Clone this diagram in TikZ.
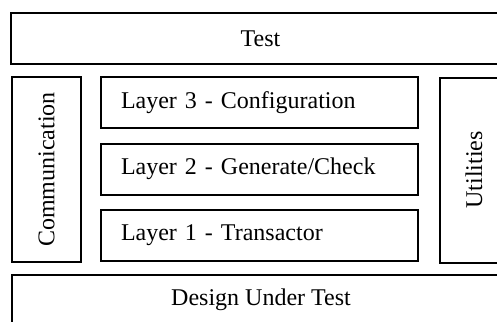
\documentclass[tikz,border=0pt]{standalone}
\usepackage{fontspec}
\setmainfont{Liberation Serif}
\usetikzlibrary{positioning}

\begin{document}
\begin{tikzpicture}[
    x=1pt, y=-1pt,
    every node/.style={font=\fontsize{24}{28}\selectfont, align=center},
    block/.style={draw, line width=2pt, inner sep=0pt},
    layer/.style={block, text width=277pt, align=left, inner xsep=20pt, minimum height=51pt},
    side/.style={block, rotate=90, minimum width=185pt, minimum height=69pt}
]

% Frame
\useasboundingbox (0,0) rectangle (497,321);
\fill[white] (0,0) rectangle (497,321);
\clip (0,0) rectangle (497,321);

% Nodes
\node[block, minimum width=499pt, minimum height=51pt] (test) at (260.5,38.5) {Test};

\node[side] (comm) at (46.5,169.5) {Communication};
\node[side] (util) at (474,170) {Utilities};

\node[layer] (layer3) at (259.5,102.5) {Layer 3 - Configuration};
\node[layer] (layer2) at (259.5,169) {Layer 2 - Generate/Check};
\node[layer] (layer1) at (259.5,235.5) {Layer 1 - Transactor};

\node[block, minimum width=498pt, minimum height=51pt] (dut) at (261,300) {Design Under Test};

\end{tikzpicture}
\end{document}
